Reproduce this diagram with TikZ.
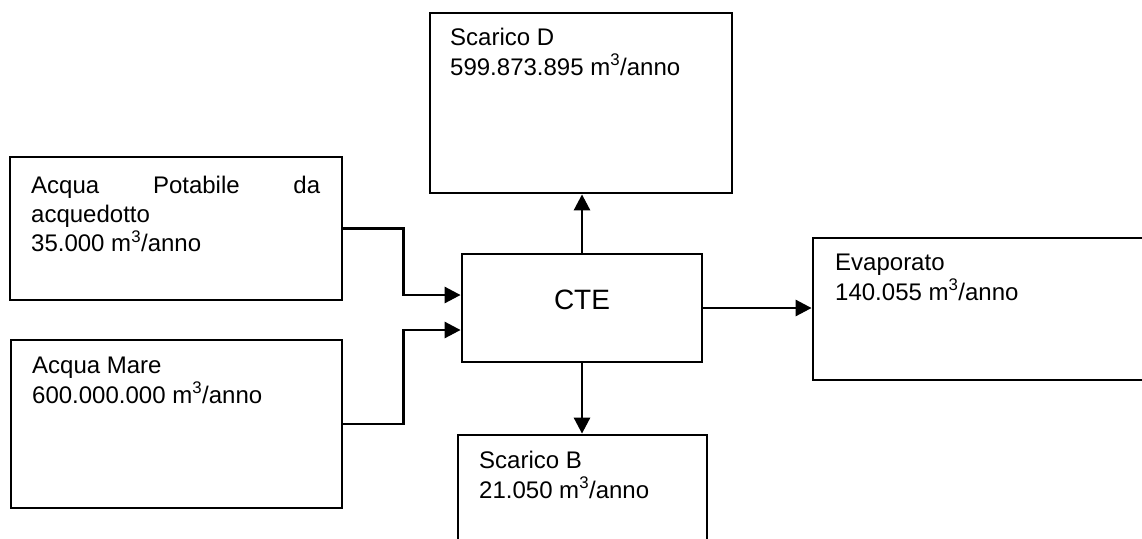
\documentclass[tikz,border=0pt]{standalone}
\usepackage{fontspec}
\setmainfont{Liberation Sans}
\usepackage{xcolor}
\definecolor{linec}{HTML}{000000}
\usepackage{tikz}
\usetikzlibrary{arrows.meta,positioning,calc}
\tikzset{
  >={Triangle[length=16pt,width=16pt]},
  blk/.style={draw=linec,line width=2.8pt,fill=white,inner sep=0pt},
  txt/.style={font=\fontsize{24}{29.3}\selectfont,align=left,inner sep=0pt,anchor=base west},
  flow/.style={->,line width=2.8pt,draw=linec},
}
\begin{document}
\begin{tikzpicture}[x=1pt,y=-1pt]
  \clip (0,0) rectangle (1142,538);
  % blocchi
  \node[blk,minimum width=332pt,minimum height=143pt] (pot) at (176,228.5) {};
  \node[blk,minimum width=331pt,minimum height=168pt] (mare) at (176.5,424) {};
  \node[blk,minimum width=240pt,minimum height=108pt] (cte) at (582,308) {};
  \node[blk,minimum width=302pt,minimum height=180pt] (scD) at (581,103) {};
  \node[blk,minimum width=249pt,minimum height=130pt] (scB) at (582.5,500) {};
  \node[blk,minimum width=350pt,minimum height=142pt] (evap) at (988,309) {};
  % testi (ancorati alla base dell'ultima riga)
  \node[txt] (pottxt) at (31,251.7) {\hbox to 289pt{Acqua\hfill Potabile\hfill da}\\acquedotto\\35.000 m\textsuperscript{3}/anno};
  \node[txt] (maretxt) at (32,403) {Acqua Mare\\600.000.000 m\textsuperscript{3}/anno};
  \node[font=\fontsize{28}{32}\selectfont,inner sep=0pt,anchor=base] (ctetxt) at (582,309) {CTE};
  \node[txt] (scDtxt) at (450,75) {Scarico D\\599.873.895 m\textsuperscript{3}/anno};
  \node[txt] (scBtxt) at (479,498) {Scarico B\\21.050 m\textsuperscript{3}/anno};
  \node[txt] (evaptxt) at (835,300) {Evaporato\\140.055 m\textsuperscript{3}/anno};
  % collegamenti
  \draw[flow] (pot.east) -- ++(60,0) |- ([yshift=13pt]cte.west);
  \draw[flow] (mare.east) -- ++(60,0) |- ([yshift=-22pt]cte.west);
  \draw[flow] (cte.north) -- (cte.north |- scD.south);
  \draw[flow] (cte.south) -- (cte.south |- scB.north);
  \draw[flow] (cte.east) -- (evap.west |- cte.east);
\end{tikzpicture}
\end{document}
